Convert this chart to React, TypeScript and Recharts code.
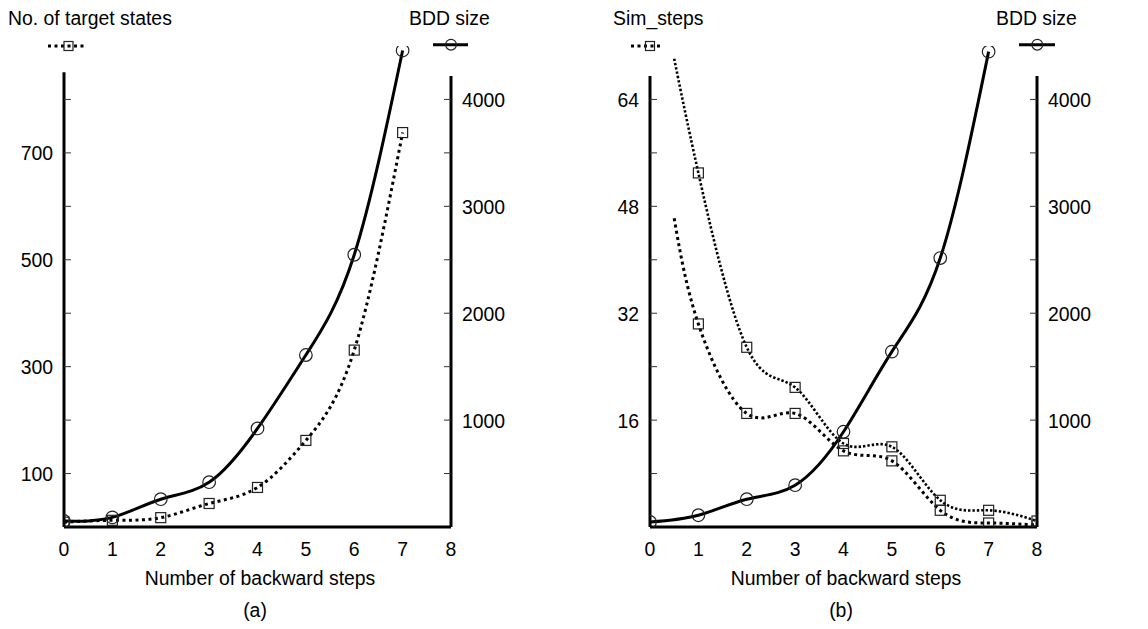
import React from 'react';
import { LineChart, Line, XAxis, YAxis, ReferenceLine } from 'recharts';

const FONT = '"Liberation Sans", Arial, Helvetica, sans-serif';
const FS = 19.4;

// shared x ticks
const xTicks = [0, 1, 2, 3, 4, 5, 6, 7, 8];

// ---- panel (a) ----
const stepsA = [0, 1, 2, 3, 4, 5, 6, 7];
const targetStates = [9, 12.5, 17.5, 44, 74, 162, 331, 738];
const bddSizeA = [56, 90, 260, 419, 922, 1609, 2547, 4458];
const leftTicksA = [100, 200, 300, 400, 500, 600, 700, 800];
const leftLabelsA = [100, 300, 500, 700];

// ---- panel (b) ----
const stepsSim = [0.5, 1, 2, 3, 4, 5, 6, 7, 8];
const simStepsUpper = [70.1, 53.0, 26.9, 20.9, 12.5, 12.0, 4.0, 2.5, 0.9];
const simStepsLower = [46.2, 30.4, 17.0, 17.0, 11.4, 9.9, 2.5, 0.6, 0.3];
const stepsBddB = [0, 1, 2, 3, 4, 5, 6, 7];
const bddSizeB = [47, 110, 260, 391, 891, 1641, 2516, 4447];
const leftTicksB = [8, 16, 24, 32, 40, 48, 56, 64];
const leftLabelsB = [16, 32, 48, 64];

// shared right axis
const rightTicks = [500, 1000, 1500, 2000, 2500, 3000, 3500, 4000];
const rightLabels = [1000, 2000, 3000, 4000];

const dataTarget = stepsA.map((x, i) => ({ x, v: targetStates[i] }));
const dataBddA = stepsA.map((x, i) => ({ x, v: bddSizeA[i] }));
const dataUpper = stepsSim.map((x, i) => ({ x, v: simStepsUpper[i] }));
const dataLower = stepsSim.map((x, i) => ({ x, v: simStepsLower[i] }));
const dataBddB = stepsBddB.map((x, i) => ({ x, v: bddSizeB[i] }));

const SquareDot = (props: any) => {
  const { cx, cy, payload, index } = props;
  if (cx == null || cy == null || !Number.isInteger(payload?.x)) return <g key={`sq${index}`} />;
  return (
    <rect key={`sq${index}`} x={cx - 5} y={cy - 5} width={10} height={10}
      fill="none" stroke="#222" strokeWidth={1.2} />
  );
};

const CircleDot = (props: any) => {
  const { cx, cy, index } = props;
  if (cx == null || cy == null) return <g key={`ci${index}`} />;
  return <circle key={`ci${index}`} cx={cx} cy={cy} r={6.3} fill="none" stroke="#222" strokeWidth={1.2} />;
};

const XTick = (props: any) => {
  const { x, y, payload } = props;
  return (
    <text x={x} y={y + 29} textAnchor="middle" fontFamily={FONT} fontSize={FS} fill="#000">
      {payload.value}
    </text>
  );
};

const makeYTick = (labels: number[], side: 'left' | 'right') => (props: any) => {
  const { x, y, payload } = props;
  const dir = side === 'left' ? 1 : -1;
  const show = labels.includes(payload.value);
  return (
    <g>
      <line x1={x} x2={x + dir * 7} y1={y} y2={y} stroke="#333" strokeWidth={1} />
      {show && (
        <text x={x - dir * 11} y={y + 7.5} textAnchor={side === 'left' ? 'end' : 'start'}
          fontFamily={FONT} fontSize={FS} fill="#000">
          {payload.value}
        </text>
      )}
    </g>
  );
};

const YTickLeftA = makeYTick(leftLabelsA, 'left');
const YTickLeftB = makeYTick(leftLabelsB, 'left');
const YTickRight = makeYTick(rightLabels, 'right');

const CH = 629;
const CW = 574;
const MT = 46;
const MB = 72;
const XH = 30;

const PanelA = () => (
  <LineChart width={CW} height={CH} margin={{ top: MT, right: 63, bottom: MB, left: 0 }}>
    <XAxis dataKey="x" type="number" domain={[0, 8]} ticks={xTicks} interval={0}
      tickLine={false} tickSize={0} tickMargin={0} height={XH}
      axisLine={{ stroke: '#000', strokeWidth: 3 }} tick={<XTick />} allowDataOverflow />
    <YAxis yAxisId="left" type="number" domain={[0, 900]} ticks={leftTicksA} interval={0}
      width={64} axisLine={false} tickLine={false} tickSize={0} tickMargin={0}
      tick={<YTickLeftA />} allowDataOverflow />
    <YAxis yAxisId="right" orientation="right" type="number" domain={[0, 4500]} ticks={rightTicks}
      interval={0} width={60} axisLine={false} tickLine={false} tickSize={0} tickMargin={0}
      tick={<YTickRight />} allowDataOverflow />
    <ReferenceLine yAxisId="left" segment={[{ x: 0, y: 0 }, { x: 0, y: 851 }]} stroke="#000" strokeWidth={3} />
    <ReferenceLine yAxisId="right" segment={[{ x: 8, y: 0 }, { x: 8, y: 4219 }]} stroke="#000" strokeWidth={3} />
    <Line yAxisId="left" data={dataTarget} dataKey="v" type="natural" stroke="#000" strokeWidth={3}
      strokeDasharray="3 3.5" dot={SquareDot} activeDot={false} isAnimationActive={false} />
    <Line yAxisId="right" data={dataBddA} dataKey="v" type="natural" stroke="#000" strokeWidth={3}
      dot={CircleDot} activeDot={false} isAnimationActive={false} />
  </LineChart>
);

const PanelB = () => (
  <LineChart width={CW} height={CH} margin={{ top: MT, right: 51, bottom: MB, left: 0 }}>
    <XAxis dataKey="x" type="number" domain={[0, 8]} ticks={xTicks} interval={0}
      tickLine={false} tickSize={0} tickMargin={0} height={XH}
      axisLine={{ stroke: '#000', strokeWidth: 3 }} tick={<XTick />} allowDataOverflow />
    <YAxis yAxisId="left" type="number" domain={[0, 72]} ticks={leftTicksB} interval={0}
      width={76} axisLine={false} tickLine={false} tickSize={0} tickMargin={0}
      tick={<YTickLeftB />} allowDataOverflow />
    <YAxis yAxisId="right" orientation="right" type="number" domain={[0, 4500]} ticks={rightTicks}
      interval={0} width={60} axisLine={false} tickLine={false} tickSize={0} tickMargin={0}
      tick={<YTickRight />} allowDataOverflow />
    <ReferenceLine yAxisId="left" segment={[{ x: 0, y: 0 }, { x: 0, y: 67.5 }]} stroke="#000" strokeWidth={3} />
    <ReferenceLine yAxisId="right" segment={[{ x: 8, y: 0 }, { x: 8, y: 4219 }]} stroke="#000" strokeWidth={3} />
    <Line yAxisId="left" data={dataUpper} dataKey="v" type="natural" stroke="#000" strokeWidth={2.6}
      strokeDasharray="2.4 2" dot={SquareDot} activeDot={false} isAnimationActive={false} />
    <Line yAxisId="left" data={dataLower} dataKey="v" type="natural" stroke="#000" strokeWidth={3}
      strokeDasharray="3 3.3" dot={SquareDot} activeDot={false} isAnimationActive={false} />
    <Line yAxisId="right" data={dataBddB} dataKey="v" type="natural" stroke="#000" strokeWidth={3}
      dot={CircleDot} activeDot={false} isAnimationActive={false} />
  </LineChart>
);

const txt = { fontFamily: FONT, fontSize: FS, fill: '#000' } as const;

const Overlay = () => (
  <svg width={1148} height={629} style={{ position: 'absolute', left: 0, top: 0, pointerEvents: 'none' }}>
    {/* titles */}
    <text x={8} y={25} {...txt}>No. of target states</text>
    <text x={409} y={25} {...txt}>BDD size</text>
    <text x={613} y={25} {...txt}>Sim_steps</text>
    <text x={996} y={25} {...txt}>BDD size</text>
    {/* legends (a) */}
    <line x1={48} x2={85} y1={46} y2={46} stroke="#000" strokeWidth={3} strokeDasharray="3 3.5" />
    <rect x={64} y={41.5} width={9} height={9} fill="none" stroke="#222" strokeWidth={1.2} />
    <line x1={433} x2={468} y1={44.7} y2={44.7} stroke="#000" strokeWidth={3} />
    <circle cx={451} cy={44.7} r={5.4} fill="none" stroke="#222" strokeWidth={1.2} />
    {/* legends (b) */}
    <line x1={631} x2={663} y1={46} y2={46} stroke="#000" strokeWidth={3} strokeDasharray="3 3.5" />
    <rect x={645.5} y={41.5} width={9} height={9} fill="none" stroke="#222" strokeWidth={1.2} />
    <line x1={1019} x2={1055} y1={44.7} y2={44.7} stroke="#000" strokeWidth={3} />
    <circle cx={1037.3} cy={44.7} r={5.4} fill="none" stroke="#222" strokeWidth={1.2} />
    {/* axis titles */}
    <text x={260} y={585} textAnchor="middle" {...txt}>Number of backward steps</text>
    <text x={846} y={585} textAnchor="middle" {...txt}>Number of backward steps</text>
    <text x={255} y={617} textAnchor="middle" {...txt}>(a)</text>
    <text x={841} y={617} textAnchor="middle" {...txt}>(b)</text>
  </svg>
);

export default function App() {
  return (
    <div style={{ position: 'absolute', left: 0, top: 0, width: 1148, height: 629, background: '#fff', overflow: 'hidden' }}>
      <div style={{ position: 'absolute', left: 0, top: 0 }}>
        <PanelA />
      </div>
      <div style={{ position: 'absolute', left: 574, top: 0 }}>
        <PanelB />
      </div>
      <Overlay />
    </div>
  );
}
